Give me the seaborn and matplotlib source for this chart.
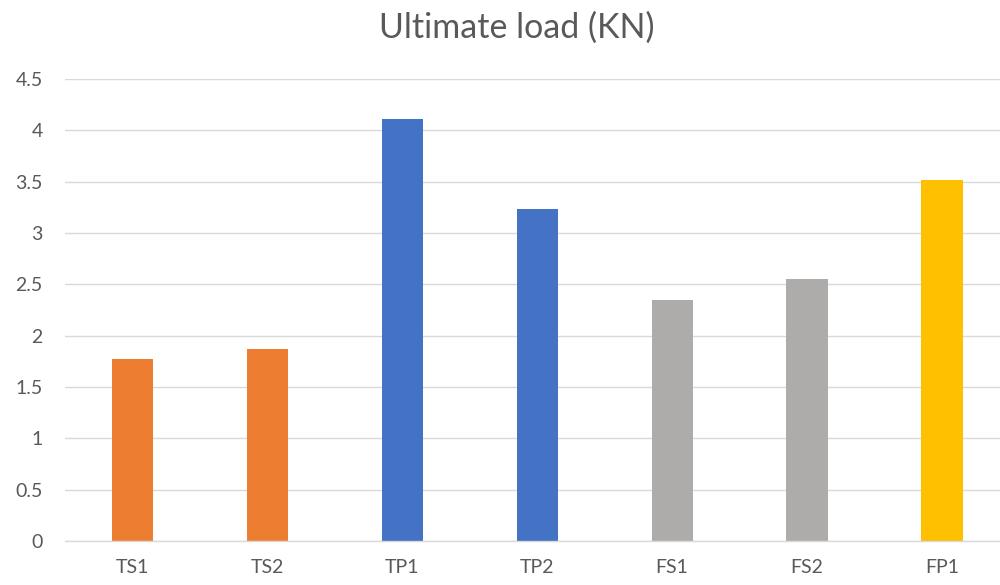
import matplotlib
matplotlib.use("Agg")
import matplotlib.pyplot as plt
import seaborn as sns
import pandas as pd

specimens = ["TS1", "TS2", "TP1", "TP2", "FS1", "FS2", "FP1"]
ultimate_load = [1.77, 1.87, 4.11, 3.23, 2.35, 2.55, 3.52]
bar_colors = ["#ED7D31", "#ED7D31", "#4472C4", "#4472C4", "#AEABAB", "#AEABAB", "#FFC000"]
y_ticks = [0, 0.5, 1, 1.5, 2, 2.5, 3, 3.5, 4, 4.5]

sns.set_theme(style="white")
plt.rcParams["font.family"] = ["Lato", "DejaVu Sans"]

df = pd.DataFrame({"specimen": specimens, "load": ultimate_load})

fig = plt.figure(figsize=(10, 5.85), dpi=100)
ax = fig.add_axes([0.065, 0.0752, 0.935, 0.7898])

sns.barplot(data=df, x="specimen", y="load", hue="specimen",
            palette=bar_colors, width=0.305, legend=False, ax=ax,
            saturation=1, edgecolor="none")

ax.set_xlim(-0.5, 6.43)
ax.set_ylim(0, 4.5)
ax.set_yticks(y_ticks)
ax.set_yticklabels([f"{t:g}" for t in y_ticks])
ax.yaxis.grid(True, color="#D9D9D9", linewidth=1)
ax.set_axisbelow(True)
for side in ["top", "right", "left"]:
    ax.spines[side].set_visible(False)
ax.spines["bottom"].set_color("#D9D9D9")
ax.spines["bottom"].set_linewidth(1)
ax.tick_params(axis="both", length=0, labelsize=14, labelcolor="#595959")
ax.tick_params(axis="y", pad=16)
ax.tick_params(axis="x", pad=13)
ax.set_xlabel("")
ax.set_ylabel("")

fig.text(0.517, 0.953, "Ultimate load (KN)", ha="center", va="center",
         fontsize=24.5, color="#595959")

fig.savefig("out.png", dpi=100)
